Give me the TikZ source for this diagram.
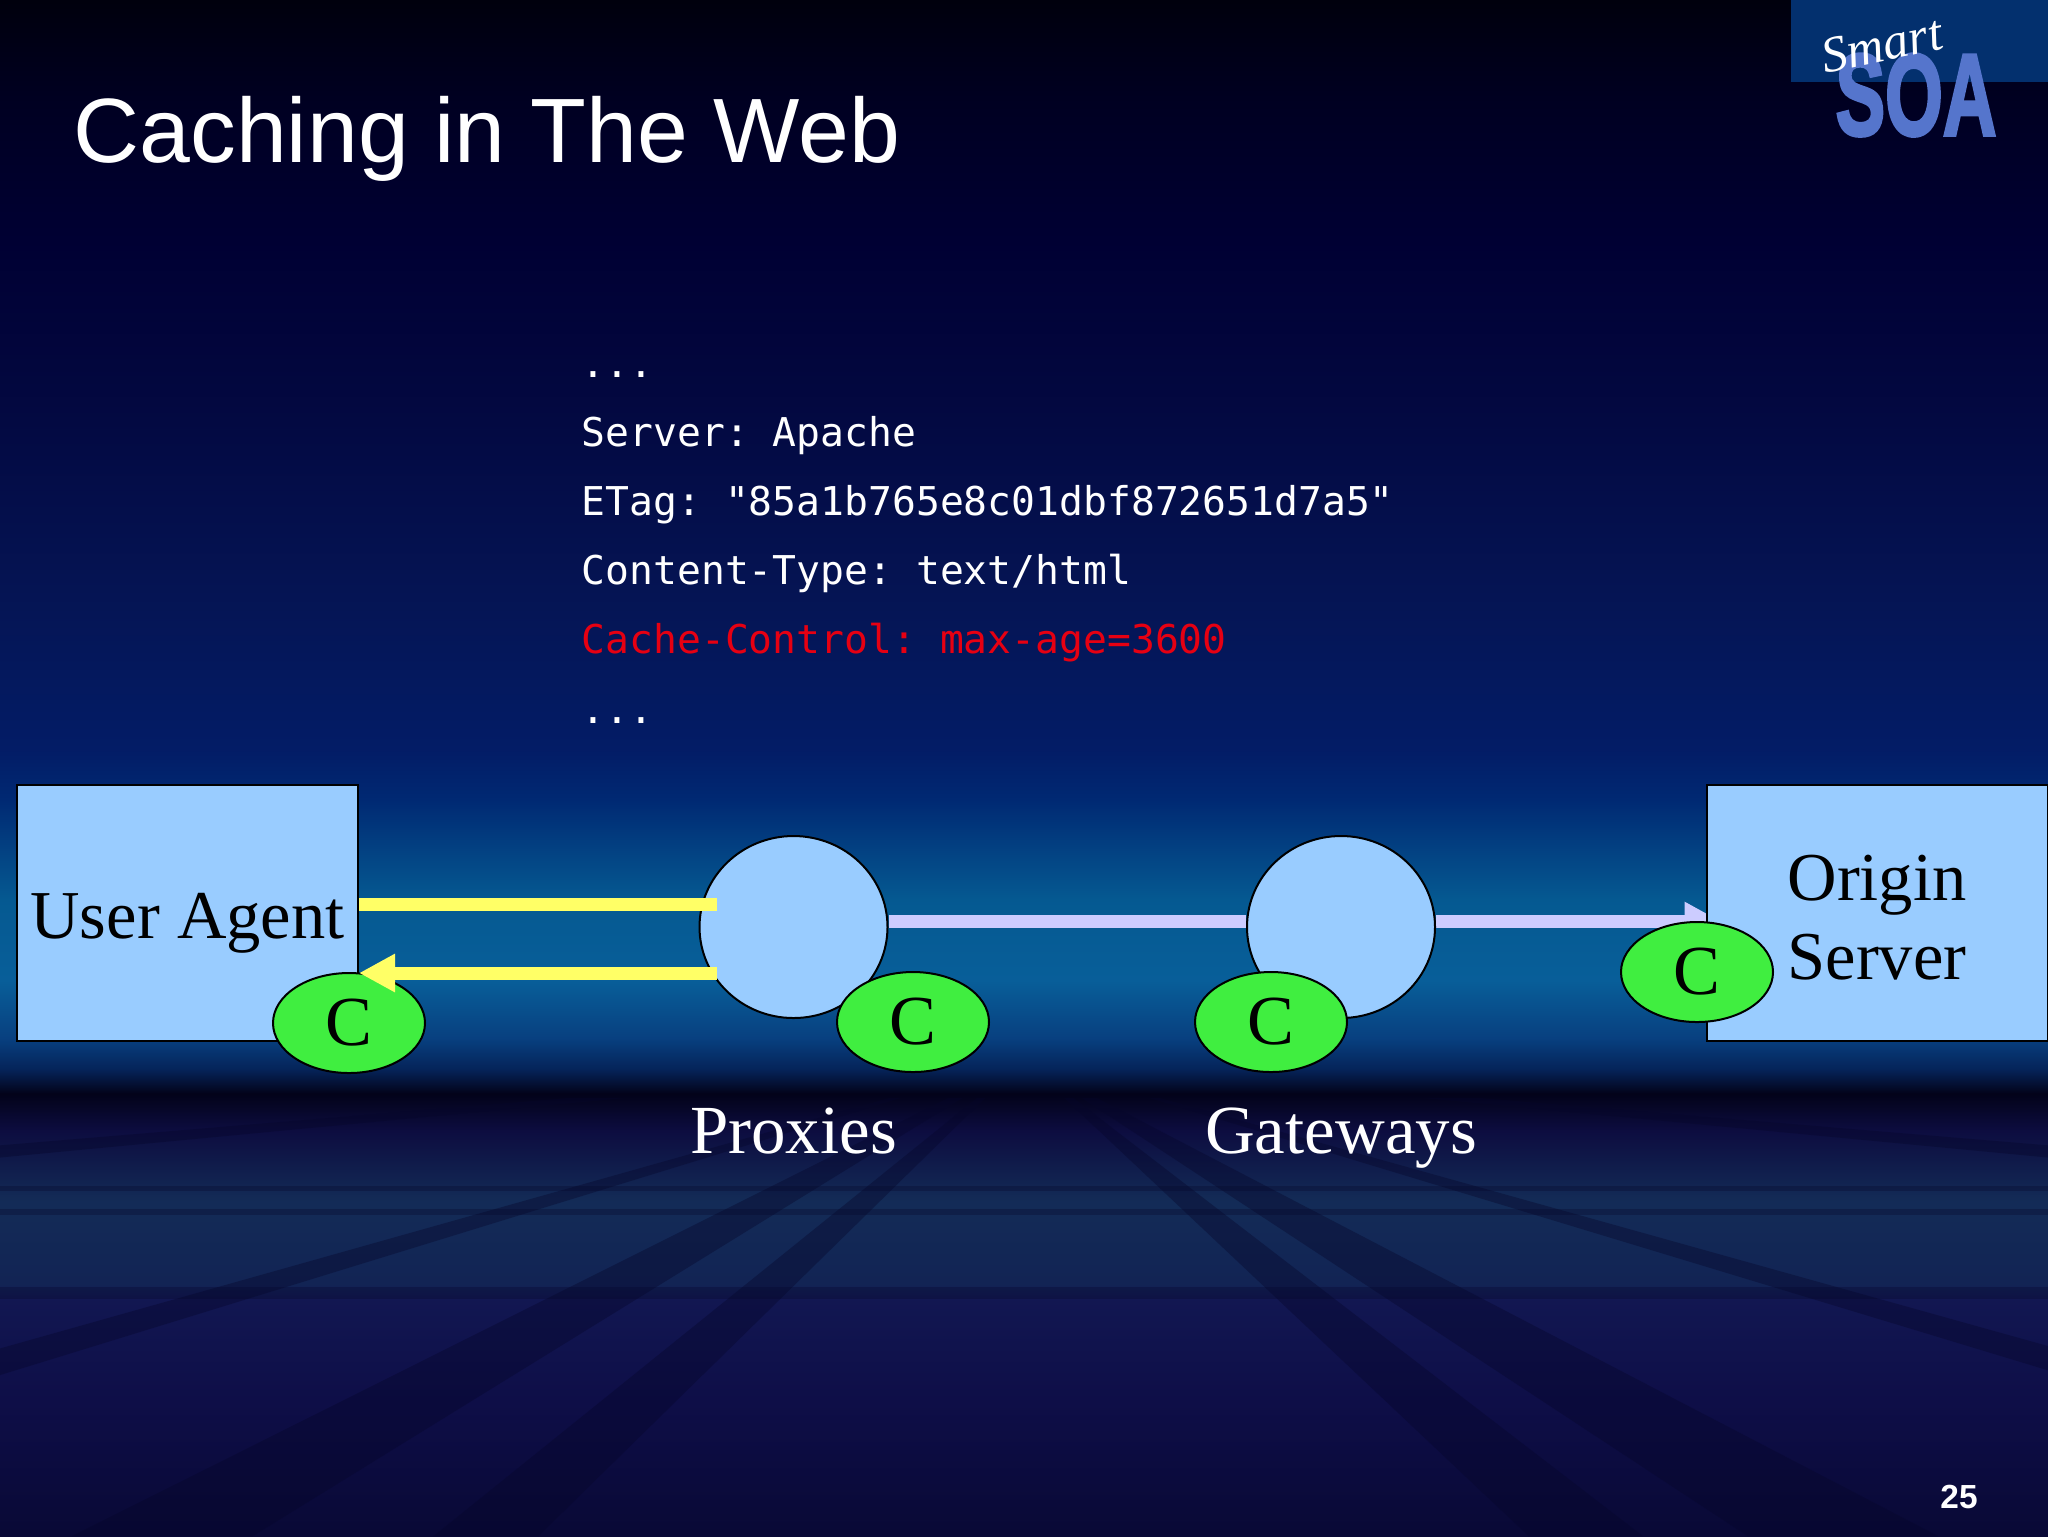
\documentclass[tikz,border=0pt]{standalone}
\usepackage{fontspec}
\setmainfont{Liberation Serif}
\setsansfont{Liberation Sans}
\setmonofont{DejaVu Sans Mono}
\newfontfamily\logofont{Liberation Sans}[BoldFeatures={FakeBold=3}]
\usetikzlibrary{arrows.meta,shapes.geometric}

\definecolor{boxblue}{HTML}{99CCFF}
\definecolor{cachegreen}{HTML}{40EE40}
\definecolor{respyellow}{HTML}{FFFF66}
\definecolor{reqlilac}{HTML}{CCCCFF}
\definecolor{logoback}{HTML}{03306E}
\definecolor{logoblue}{HTML}{5575CC}
\definecolor{hdrred}{HTML}{E60012}
\definecolor{banddark}{HTML}{06062A}

\pgfdeclareverticalshading{slidesky}{100bp}{%
  rgb(0bp)=(0.035,0.035,0.21);
  rgb(25bp)=(0.035,0.035,0.21);
  rgb(29.4bp)=(0.055,0.055,0.28);
  rgb(32.7bp)=(0.07,0.09,0.32);
  rgb(33.2bp)=(0.07,0.14,0.33);
  rgb(35.9bp)=(0.075,0.17,0.34);
  rgb(38.2bp)=(0.05,0.05,0.25);
  rgb(39.4bp)=(0.01,0.01,0.10);
  rgb(40.2bp)=(0.02,0.14,0.35);
  rgb(41.2bp)=(0.03,0.25,0.50);
  rgb(43.1bp)=(0.03,0.37,0.60);
  rgb(45.7bp)=(0.02,0.35,0.57);
  rgb(49bp)=(0.00,0.16,0.45);
  rgb(50.6bp)=(0.01,0.11,0.40);
  rgb(55.5bp)=(0.02,0.08,0.33);
  rgb(62bp)=(0.01,0.03,0.25);
  rgb(67.2bp)=(0.00,0.00,0.20);
  rgb(71.8bp)=(0.00,0.00,0.13);
  rgb(75bp)=(0.00,0.00,0.05);
  rgb(100bp)=(0.00,0.00,0.05)}

\tikzset{
  boxnode/.style={draw=black, line width=0.2mm, fill=boxblue, minimum width=3.41cm, minimum height=2.56cm,
    inner sep=0pt, text=black, font=\fontsize{19.5}{22.5}\selectfont},
  hopnode/.style={ellipse, draw=black, line width=0.2mm, fill=boxblue, minimum width=1.88cm, minimum height=1.82cm, inner sep=0pt},
  cachenode/.style={ellipse, draw=black, line width=0.2mm, fill=cachegreen, minimum width=1.52cm, minimum height=1.00cm,
    inner sep=0pt, text=black, font=\fontsize{20}{22}\selectfont},
  hoplabel/.style={anchor=base, text=white, inner sep=0pt, font=\fontsize{19.6}{22}\selectfont},
  hdrline/.style={anchor=base west, text=white, inner sep=0pt, font=\ttfamily\fontsize{11.29}{13}\selectfont},
  resplink/.style={->, draw=respyellow, line width=1.3mm},
  reqlink/.style={->, draw=reqlilac, line width=1.3mm},
  floorband/.style={fill=banddark, opacity=0.38},
}

\pgfdeclarelayer{under}
\pgfsetlayers{under,main}

\begin{document}
\begin{tikzpicture}[x=0.1mm, y=-0.1mm, >={Triangle[length=3.6mm,width=3.6mm]}]
  \useasboundingbox (0,0) rectangle (2048,1536);
  \clip (0,0) rectangle (2048,1536);

  \begin{pgfonlayer}{under}
    % slide background
    \shade[shading=slidesky] (0,0) rectangle (2048,1536);
    \begin{scope}
      \clip (0,1098) rectangle (2048,1536);
      % floor stripes
      \foreach \ka/\kb in {-1.24/-1.02, -2.00/-1.62, 1.06/1.30, 1.52/1.92, 3.30/3.58, -3.55/-3.25, -12.0/-10.5, 10.5/12.0}
        \fill[floorband] (1024,1060) -- (1024+\ka*476,1536) -- (1024+\kb*476,1536) -- cycle;
      \foreach \ya/\yb in {1186/1191, 1209/1215, 1287/1299}
        \fill[floorband, opacity=0.3] (0,\ya) rectangle (2048,\yb);
    \end{scope}
    % logo plate
    \fill[logoback] (1791,0) rectangle (2048,82);
  \end{pgfonlayer}

  % logo and title
  \node[anchor=base, text=logoblue, inner sep=0pt, xscale=0.64, font=\logofont\bfseries\fontsize{33}{36}\selectfont] (soa) at (1916,135) {SOA};
  \node[text=white, inner sep=0pt, rotate=12, font=\itshape\fontsize{14.5}{16}\selectfont] (smart) at (1882,45) {Smart};
  \node[anchor=base west, text=white, inner sep=0pt, font=\sffamily\fontsize{26}{28}\selectfont] (title) at (73,162) {Caching in The Web};
  \node[anchor=base, text=white, inner sep=0pt, font=\sffamily\bfseries\fontsize{9.5}{11}\selectfont] (pageno) at (1959,1508) {25};

  % http headers
  \node[hdrline] (dotsa) at (581,377) {...};
  \node[hdrline] (hserver) at (581,446) {Server: Apache};
  \node[hdrline] (hetag) at (581,515) {ETag: "85a1b765e8c01dbf872651d7a5"};
  \node[hdrline] (htype) at (581,584) {Content-Type: text/html};
  \node[hdrline, text=hdrred] (hcache) at (581,653) {Cache-Control: max-age=3600};
  \node[hdrline] (dotsb) at (581,723) {...};

  % boxes and hops
  \node[boxnode, text height=0.6cm, text depth=0.1cm] (agent) at (187.5,913) {User Agent};
  \node[boxnode, align=center] (origin) at (1877,913) {\rule{0pt}{5.5mm}Origin\\Server};
  \node[hopnode] (proxy) at (793.5,927) {};
  \node[hopnode] (gateway) at (1341,927) {};
  \node[hoplabel] (proxylbl) at (793.5,1153) {Proxies};
  \node[hoplabel] (gatewaylbl) at (1341,1153) {Gateways};

  % caches
  \node[cachenode] (cagent) at (349,1023) {C};
  \node[cachenode] (cproxy) at (913,1022) {C};
  \node[cachenode] (cgateway) at (1271,1022) {C};
  \node[cachenode] (corigin) at (1697,972) {C};

  % links
  \draw[resplink, -, shorten >=-1.8mm] (agent.east |- 0,904) -- (proxy.west |- 0,904);
  \draw[resplink, shorten <=-1.8mm] (proxy.west |- 0,973) -- (agent.east |- 0,973);
  \begin{pgfonlayer}{under}
    \draw[reqlink, -] (proxy.east |- 0,921) -- (gateway.west |- 0,921);
    \draw[reqlink, shorten >=-1.5mm] (gateway.east |- 0,921) -- (origin.west |- 0,921);
  \end{pgfonlayer}
\end{tikzpicture}
\end{document}
